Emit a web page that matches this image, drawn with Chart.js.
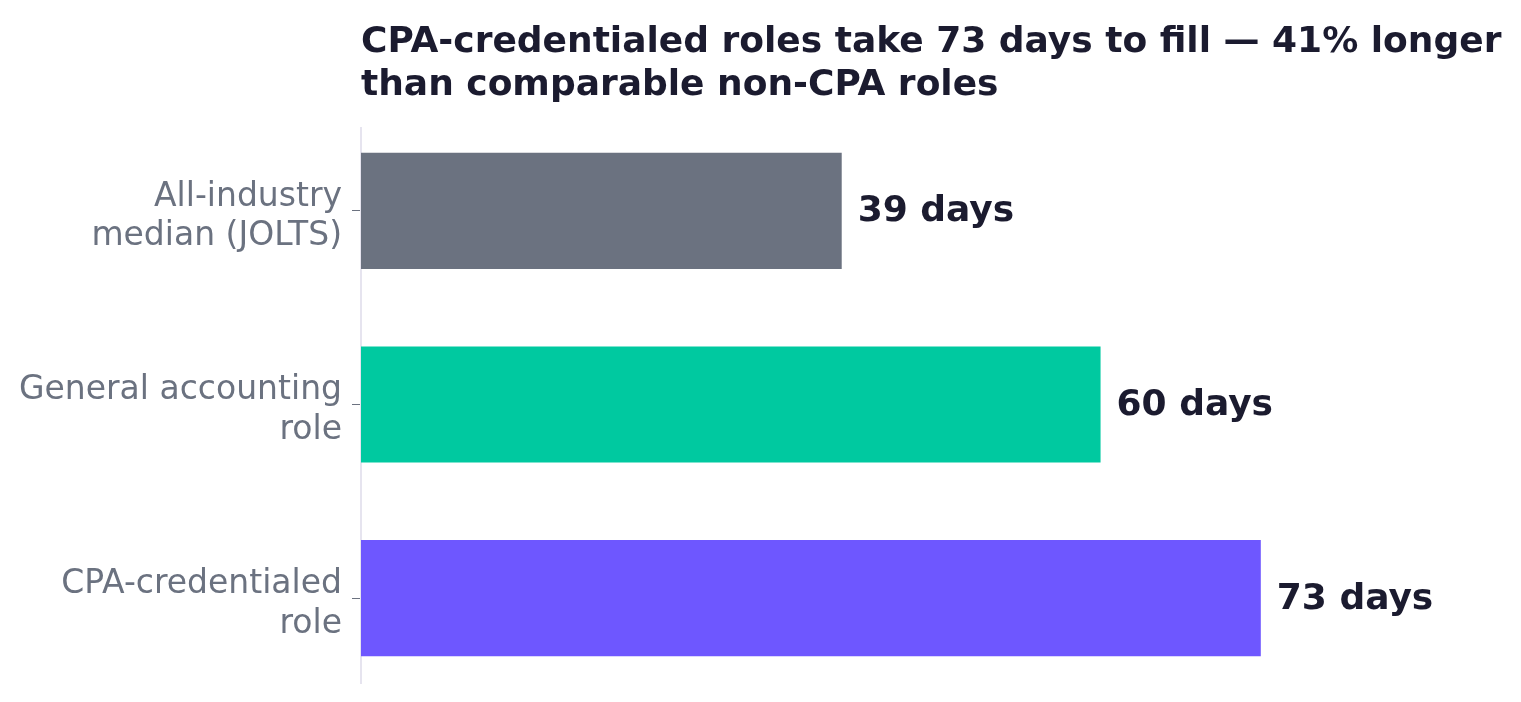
<!DOCTYPE html>
<html>
<head>
<meta charset="utf-8">
<script src="https://cdn.jsdelivr.net/npm/chart.js@4"></script>
<style>
  html, body { margin: 0; padding: 0; background: #ffffff; }
  #wrap { width: 1521px; height: 702px; }
</style>
</head>
<body>
<div id="wrap"><canvas id="time-to-fill" width="1521" height="702"></canvas></div>
<script>
// data
var categories = [
  ["All-industry", "median (JOLTS)"],
  ["General accounting", "role"],
  ["CPA-credentialed", "role"]
];
var daysToFill = [39, 60, 73];
var valueLabels = ["39 days", "60 days", "73 days"];
var barColors = ["#6b7280", "#00c9a0", "#6e57ff"];
var titleLines = [
  "CPA-credentialed roles take 73 days to fill \u2014 41% longer",
  "than comparable non-CPA roles"
];

var FONT = "'DejaVu Sans', sans-serif";
var INK = "#1b1b2f";

// title + axis line + value labels drawn by hand
var extrasPlugin = {
  id: "extras",
  beforeDatasetsDraw: function(chart) {
    var ctx = chart.ctx;
    var left = chart.chartArea.left;
    ctx.save();
    ctx.strokeStyle = "#e6e4ef";
    ctx.lineWidth = 2;
    ctx.beginPath();
    ctx.moveTo(left, 127);
    ctx.lineTo(left, 684);
    ctx.stroke();
    ctx.restore();
  },
  afterDatasetsDraw: function(chart) {
    var ctx = chart.ctx;
    var meta = chart.getDatasetMeta(0);
    ctx.save();
    ctx.fillStyle = INK;
    ctx.font = "bold 36px " + FONT;
    ctx.textBaseline = "middle";
    ctx.textAlign = "left";
    meta.data.forEach(function(bar, i) {
      ctx.fillText(valueLabels[i], bar.x + 16, bar.y + 1);
    });
    // title
    var left = chart.chartArea.left;
    ctx.textBaseline = "alphabetic";
    titleLines.forEach(function(line, i) {
      ctx.fillText(line, left, 52 + i * 43);
    });
    ctx.restore();
  }
};

new Chart(document.getElementById("time-to-fill").getContext("2d"), {
  type: "bar",
  data: {
    labels: categories,
    datasets: [{
      data: daysToFill,
      backgroundColor: barColors,
      borderWidth: 0,
      barPercentage: 0.6,
      categoryPercentage: 1.0
    }]
  },
  options: {
    indexAxis: "y",
    responsive: false,
    animation: false,
    devicePixelRatio: 1,
    layout: { padding: { top: 114, bottom: 7, left: 0, right: 26 } },
    plugins: {
      legend: { display: false },
      tooltip: { enabled: false },
      title: { display: false }
    },
    scales: {
      x: {
        display: false,
        min: 0,
        max: 92
      },
      y: {
        afterFit: function(scale) {
          scale.width = 361;
          scale.paddingTop = 0;
          scale.paddingBottom = 0;
        },
        border: { display: false },
        grid: {
          display: true,
          drawOnChartArea: false,
          drawTicks: true,
          tickLength: 9,
          offset: false,
          color: "#6b7280",
          lineWidth: 1
        },
        ticks: {
          color: "#6b7280",
          padding: 10,
          labelOffset: 6,
          font: { family: FONT, size: 33, lineHeight: 1.2 }
        }
      }
    }
  },
  plugins: [extrasPlugin]
});
</script>
</body>
</html>
